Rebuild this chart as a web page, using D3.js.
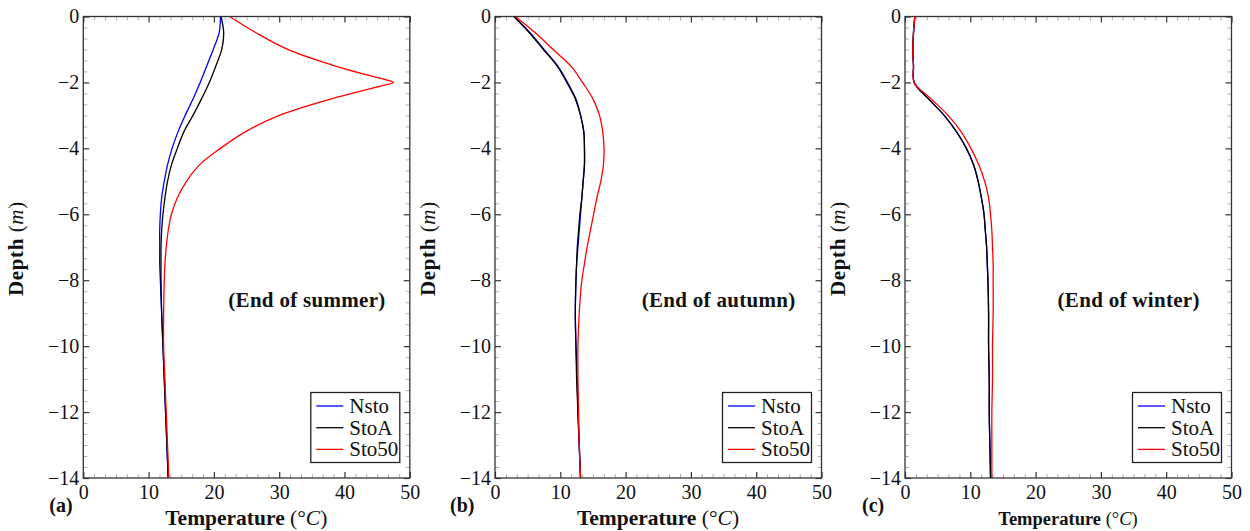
<!DOCTYPE html>
<html><head><meta charset="utf-8">
<script src="https://cdn.jsdelivr.net/npm/d3@7"></script>
<style>
body{margin:0;background:#fff}
svg{display:block}
text{font-family:"Liberation Serif","DejaVu Serif",serif;fill:#111}
</style>
</head><body>
<svg id="chart" width="1250" height="531"></svg>
<script>
// ---------------- data ----------------
const seriesNames = ["Nsto", "StoA", "Sto50"];
const seriesColors = ["#0000ff", "#000000", "#ff0000"];
const xTickValues = [0, 10, 20, 30, 40, 50];
const yTickValues = [0, -2, -4, -6, -8, -10, -12, -14];
const panelLetters = ["(a)", "(b)", "(c)"];
const seasonLabels = ["(End of summer)", "(End of autumn)", "(End of winter)"];

const depthGrid = [0, -0.5, -1, -1.5, -2, -2.5, -3, -3.5, -4, -4.5, -5, -5.5, -6, -6.5, -7, -7.5, -8, -9, -10, -11, -12, -13, -14];

// (a) End of summer
const summerNsto = [21.0, 20.8, 19.9, 18.9, 17.9, 16.8, 15.6, 14.5, 13.6, 12.9, 12.4, 12.0, 11.8, 11.7, 11.7, 11.7, 11.8, 12.0, 12.2, 12.4, 12.6, 12.8, 13.0];
const summerStoA = [21.1, 21.5, 21.2, 20.3, 19.3, 18.1, 16.8, 15.4, 14.4, 13.5, 12.9, 12.5, 12.2, 12.0, 11.9, 11.9, 11.9, 12.0, 12.2, 12.4, 12.6, 12.8, 13.0];
const summerSto50Depth = [0, -0.5, -1, -1.5, -1.75, -1.9, -2, -2.1, -2.25, -2.5, -2.75, -3, -3.5, -4, -4.5, -5, -5.5, -6, -6.5, -7, -7.5, -8, -9, -10, -11, -12, -13, -14];
const summerSto50 = [22.4, 26.5, 31.3, 38.5, 43.0, 46.0, 47.5, 45.8, 42.8, 38.0, 33.7, 30.0, 24.8, 21.0, 17.8, 15.8, 14.4, 13.5, 13.0, 12.7, 12.5, 12.4, 12.3, 12.3, 12.5, 12.7, 12.9, 13.1];

// (b) End of autumn
const autumnNsto = [2.9, 5.4, 7.5, 9.6, 11.1, 12.4, 13.1, 13.6, 13.7, 13.7, 13.5, 13.3, 13.1, 12.9, 12.7, 12.5, 12.4, 12.3, 12.4, 12.6, 12.7, 12.9, 13.1];
const autumnStoA = [2.9, 5.3, 7.4, 9.5, 11.0, 12.3, 13.1, 13.6, 13.7, 13.7, 13.5, 13.3, 13.0, 12.8, 12.6, 12.5, 12.4, 12.3, 12.4, 12.5, 12.7, 12.9, 13.1];
const autumnSto50 = [3.1, 6.2, 8.9, 11.6, 13.4, 15.0, 16.0, 16.5, 16.7, 16.6, 16.2, 15.6, 15.1, 14.6, 14.1, 13.7, 13.3, 12.9, 12.7, 12.7, 12.8, 12.9, 13.1];

// (c) End of winter
const winterNsto = [1.5, 1.3, 1.2, 1.3, 1.4, 3.6, 6.0, 7.9, 9.4, 10.5, 11.2, 11.7, 12.1, 12.3, 12.5, 12.6, 12.7, 12.8, 12.8, 12.9, 12.9, 13.0, 13.1];
const winterStoA = [1.5, 1.3, 1.2, 1.3, 1.4, 3.6, 6.0, 7.9, 9.4, 10.5, 11.2, 11.7, 12.1, 12.3, 12.5, 12.6, 12.7, 12.8, 12.8, 12.9, 12.9, 13.0, 13.1];
const winterSto50 = [1.5, 1.3, 1.2, 1.3, 1.4, 4.0, 6.6, 8.6, 10.1, 11.3, 12.2, 12.8, 13.1, 13.3, 13.4, 13.5, 13.5, 13.5, 13.4, 13.4, 13.3, 13.3, 13.3];

// ---------------- layout ----------------
const svg = d3.select("#chart");
const plotTop = 16.5, plotH = 461.5, plotW = 326.5;
const panelLefts = [83.3, 495, 905];
const letterOffsets = [34, 45, 43];
const xLabelSizes = [21.5, 21.5, 18.5];

const panelData = [
  [[depthGrid, summerNsto], [depthGrid, summerStoA], [summerSto50Depth, summerSto50]],
  [[depthGrid, autumnNsto], [depthGrid, autumnStoA], [depthGrid, autumnSto50]],
  [[depthGrid, winterNsto], [depthGrid, winterStoA], [depthGrid, winterSto50]]
];

const x = d3.scaleLinear().domain([0, 50]).range([0, plotW]);
const y = d3.scaleLinear().domain([0, -14]).range([0, plotH]);

const xMinor = d3.range(0, 50.001, 10 / 6).filter(v => Math.abs(v / 10 - Math.round(v / 10)) > 1e-6);
const yMinor = d3.range(0, -14.001, -2 / 6).filter(v => Math.abs(v / 2 - Math.round(v / 2)) > 1e-6);

const line = d3.line()
  .x(d => x(d[1]))
  .y(d => y(d[0]))
  .curve(d3.curveCatmullRom.alpha(0.5));

const serif = '"Liberation Serif","DejaVu Serif",serif';

panelData.forEach((series, i) => {
  const g = svg.append("g").attr("transform", `translate(${panelLefts[i]},${plotTop})`);

  // minor ticks
  const minorStyle = sel => {
    sel.select(".domain").remove();
    sel.selectAll("line").attr("stroke", "#a8a8a8").attr("stroke-width", 0.9);
  };
  g.append("g").attr("transform", `translate(0,${plotH})`)
    .call(d3.axisBottom(x).tickValues(xMinor).tickSize(-4).tickFormat("")).call(minorStyle);
  g.append("g")
    .call(d3.axisTop(x).tickValues(xMinor).tickSize(-4).tickFormat("")).call(minorStyle);
  g.append("g")
    .call(d3.axisLeft(y).tickValues(yMinor).tickSize(-4).tickFormat("")).call(minorStyle);
  g.append("g").attr("transform", `translate(${plotW},0)`)
    .call(d3.axisRight(y).tickValues(yMinor).tickSize(-4).tickFormat("")).call(minorStyle);

  // major ticks
  const majorStyle = sel => {
    sel.attr("font-family", serif).attr("font-size", 20);
    sel.select(".domain").remove();
    sel.selectAll("line").attr("stroke", "#333").attr("stroke-width", 1.2);
    sel.selectAll("text").attr("fill", "#111");
  };
  g.append("g").attr("transform", `translate(0,${plotH})`)
    .call(d3.axisBottom(x).tickValues(xTickValues).tickSize(-6).tickPadding(7).tickFormat(d3.format("d")))
    .call(majorStyle);
  g.append("g")
    .call(d3.axisTop(x).tickValues(xTickValues).tickSize(-6).tickFormat(""))
    .call(majorStyle);
  g.append("g")
    .call(d3.axisLeft(y).tickValues(yTickValues).tickSize(-6).tickPadding(4).tickFormat(d3.format("d")))
    .call(majorStyle);
  g.append("g").attr("transform", `translate(${plotW},0)`)
    .call(d3.axisRight(y).tickValues(yTickValues).tickSize(-6).tickFormat(""))
    .call(majorStyle);

  // curves
  series.forEach((s, k) => {
    const pts = s[0].map((d, j) => [d, s[1][j]]);
    g.append("path").datum(pts)
      .attr("fill", "none")
      .attr("stroke", seriesColors[k])
      .attr("stroke-width", 1.3)
      .attr("d", line);
  });

  // frame
  g.append("rect").attr("x", 0).attr("y", 0).attr("width", plotW).attr("height", plotH)
    .attr("fill", "none").attr("stroke", "#333").attr("stroke-width", 1.3);

  // season annotation
  g.append("text")
    .attr("x", plotW * 0.685).attr("y", 299.5 - plotTop + 7)
    .attr("text-anchor", "middle").attr("font-size", 21).attr("font-weight", "bold")
    .attr("letter-spacing", 0.3)
    .text(seasonLabels[i]);

  // legend
  const lw = 89, lh = 70;
  const lg = g.append("g").attr("transform", `translate(${plotW - 10 - lw},${392.5 - plotTop})`);
  lg.append("rect").attr("width", lw).attr("height", lh)
    .attr("fill", "#fff").attr("stroke", "#222").attr("stroke-width", 1.3);
  seriesNames.forEach((name, k) => {
    const yy = 13.5 + k * 21.7;
    lg.append("line").attr("x1", 5.5).attr("x2", 32.5).attr("y1", yy).attr("y2", yy)
      .attr("stroke", seriesColors[k]).attr("stroke-width", 1.3);
    lg.append("text").attr("x", 38.5).attr("y", yy + 6.8).attr("font-size", 21).text(name);
  });

  // y axis label
  const yl = g.append("text")
    .attr("transform", `translate(-60,${248.6 - plotTop}) rotate(-90)`)
    .attr("text-anchor", "middle").attr("font-size", 21).attr("letter-spacing", 0.6);
  yl.append("tspan").attr("font-weight", "bold").text("Depth");
  yl.append("tspan").text(" (");
  yl.append("tspan").attr("font-style", "italic").text("m");
  yl.append("tspan").text(")");

  // x axis label
  const xl = g.append("text")
    .attr("x", 163).attr("y", 524.5 - plotTop)
    .attr("text-anchor", "middle").attr("font-size", xLabelSizes[i]);
  xl.append("tspan").attr("font-weight", "bold").text("Temperature");
  xl.append("tspan").text(" (°");
  xl.append("tspan").attr("font-style", "italic").text("C");
  xl.append("tspan").text(")");

  // panel letter
  g.append("text").attr("x", -letterOffsets[i]).attr("y", 511.5 - plotTop)
    .attr("font-size", 20).attr("font-weight", "bold").text(panelLetters[i]);
});
</script>
</body></html>
